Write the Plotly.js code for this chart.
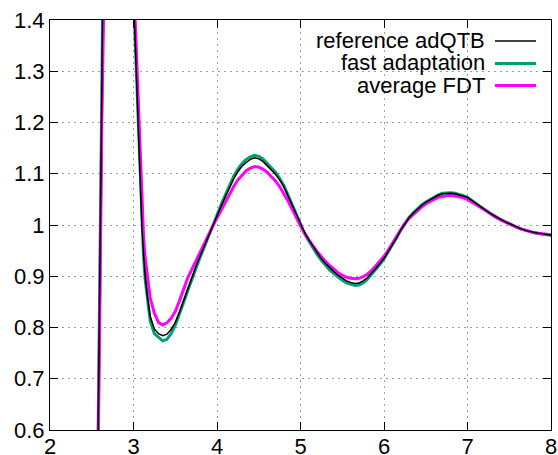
<!DOCTYPE html>
<html>
<head>
<meta charset="utf-8">
<script src="https://cdn.plot.ly/plotly-3.0.1.min.js"></script>
<style>html,body{margin:0;padding:0;background:#fff;}#chart{width:558px;height:455px;}</style>
</head>
<body>
<div id="chart"></div>
<script>
const seriesNames = ["reference adQTB", "fast adaptation", "average FDT"];
const seriesColors = ["#000000", "#009e73", "#ff00ff"];

const xs = [2.0, 2.5, 2.55, 2.58, 2.6, 2.62, 2.64, 2.67, 2.7, 2.75, 2.8, 2.85, 2.9, 2.95, 3.0, 3.02, 3.04, 3.06, 3.08, 3.1, 3.12, 3.14, 3.17, 3.2, 3.25,
  3.30, 3.35, 3.40, 3.45, 3.50, 3.55, 3.60, 3.65, 3.70, 3.75, 3.80, 3.85, 3.90, 3.95,
  4.00, 4.05, 4.10, 4.15, 4.20, 4.25, 4.30, 4.35, 4.40, 4.45, 4.50, 4.55, 4.60, 4.65, 4.70, 4.75, 4.80, 4.85, 4.90, 4.95,
  5.00, 5.05, 5.10, 5.15, 5.20, 5.25, 5.30, 5.35, 5.40, 5.45, 5.50, 5.55, 5.60, 5.65, 5.70, 5.75, 5.80, 5.85, 5.90, 5.95,
  6.00, 6.05, 6.10, 6.15, 6.20, 6.25, 6.30, 6.35, 6.40, 6.45, 6.50, 6.55, 6.60, 6.65, 6.70, 6.75, 6.80, 6.85, 6.90, 6.95,
  7.00, 7.05, 7.10, 7.15, 7.20, 7.25, 7.30, 7.35, 7.40, 7.45, 7.50, 7.55, 7.60, 7.65, 7.70, 7.75, 7.80, 7.85, 7.90, 7.95, 8.00];

const gReference = [0, 0.02, 0.2, 0.6, 0.92, 1.25, 1.58, 2.05, 2.42, 2.8, 2.95, 2.85, 2.5, 2.0, 1.45, 1.36, 1.27, 1.17, 1.08, 1.0, 0.945, 0.9, 0.855, 0.822, 0.797,
  0.788, 0.784, 0.787, 0.796, 0.810, 0.830, 0.853, 0.876, 0.898, 0.920, 0.940, 0.960, 0.980, 1.000,
  1.018, 1.037, 1.055, 1.073, 1.090, 1.104, 1.115, 1.122, 1.128, 1.131, 1.129, 1.124, 1.116, 1.109, 1.099, 1.088, 1.075, 1.057, 1.039, 1.019,
  1.000, 0.985, 0.971, 0.958, 0.945, 0.934, 0.925, 0.916, 0.909, 0.902, 0.896, 0.891, 0.888, 0.886, 0.887, 0.891, 0.897, 0.905, 0.915, 0.925,
  0.935, 0.948, 0.961, 0.975, 0.990, 1.002, 1.014, 1.023, 1.031, 1.038, 1.044, 1.049, 1.054, 1.058, 1.061, 1.062, 1.062, 1.061, 1.059, 1.057,
  1.054, 1.048, 1.042, 1.036, 1.031, 1.025, 1.020, 1.015, 1.010, 1.006, 1.003, 0.999, 0.996, 0.992, 0.989, 0.987, 0.985, 0.984, 0.983, 0.981, 0.980];

const gFast = [0, 0.02, 0.2, 0.6, 0.92, 1.25, 1.58, 2.05, 2.42, 2.82, 2.97, 2.87, 2.52, 2.02, 1.46, 1.36, 1.27, 1.17, 1.08, 0.995, 0.938, 0.893, 0.847, 0.813, 0.788,
  0.780, 0.774, 0.777, 0.788, 0.804, 0.825, 0.849, 0.872, 0.895, 0.917, 0.938, 0.958, 0.979, 1.000,
  1.020, 1.040, 1.059, 1.078, 1.095, 1.109, 1.120, 1.128, 1.133, 1.136, 1.134, 1.129, 1.121, 1.113, 1.103, 1.091, 1.077, 1.059, 1.040, 1.019,
  0.999, 0.983, 0.969, 0.955, 0.942, 0.931, 0.921, 0.912, 0.905, 0.898, 0.892, 0.887, 0.884, 0.882, 0.883, 0.887, 0.894, 0.903, 0.913, 0.923,
  0.934, 0.947, 0.961, 0.975, 0.990, 1.003, 1.015, 1.024, 1.032, 1.039, 1.045, 1.050, 1.055, 1.059, 1.062, 1.063, 1.063, 1.062, 1.060, 1.057,
  1.054, 1.048, 1.042, 1.036, 1.030, 1.025, 1.019, 1.014, 1.010, 1.006, 1.002, 0.998, 0.995, 0.992, 0.989, 0.987, 0.985, 0.983, 0.982, 0.981, 0.980];

const gFDT = [0, 0.02, 0.18, 0.56, 0.88, 1.2, 1.52, 2.0, 2.38, 2.75, 2.9, 2.8, 2.48, 2.0, 1.49, 1.4, 1.31, 1.21, 1.12, 1.04, 0.98, 0.935, 0.89, 0.858, 0.828,
  0.810, 0.805, 0.809, 0.818, 0.831, 0.852, 0.875, 0.897, 0.914, 0.930, 0.947, 0.964, 0.981, 0.998,
  1.014, 1.030, 1.046, 1.061, 1.075, 1.088, 1.098, 1.106, 1.111, 1.114, 1.113, 1.109, 1.103, 1.095, 1.086, 1.075, 1.062, 1.047, 1.031, 1.014,
  0.998, 0.984, 0.971, 0.959, 0.948, 0.938, 0.929, 0.921, 0.914, 0.907, 0.902, 0.898, 0.896, 0.895, 0.896, 0.899, 0.904, 0.911, 0.920, 0.929,
  0.939, 0.951, 0.964, 0.977, 0.991, 1.003, 1.013, 1.021, 1.028, 1.035, 1.041, 1.046, 1.050, 1.054, 1.056, 1.057, 1.058, 1.057, 1.055, 1.053,
  1.050, 1.045, 1.040, 1.035, 1.030, 1.024, 1.019, 1.014, 1.010, 1.006, 1.002, 0.998, 0.995, 0.992, 0.989, 0.987, 0.985, 0.984, 0.983, 0.982, 0.981];

const xTickVals = [2, 3, 4, 5, 6, 7, 8];
const xTickText = ["2", "3", "4", "5", "6", "7", "8"];
const yTickVals = [0.6, 0.7, 0.8, 0.9, 1.0, 1.1, 1.2, 1.3, 1.4];
const yTickText = ["0.6", "0.7", "0.8", "0.9", "1", "1.1", "1.2", "1.3", "1.4"];

const FONT = "Liberation Sans, Arial, sans-serif";

const traces = [
  {x: xs, y: gFast, mode: "lines", name: seriesNames[1], line: {color: seriesColors[1], width: 3}},
  {x: xs, y: gFDT, mode: "lines", name: seriesNames[2], line: {color: seriesColors[2], width: 3}},
  {x: xs, y: gReference, mode: "lines", name: seriesNames[0], line: {color: seriesColors[0], width: 1.5}}
];

const legendRowsY = [40.5, 63, 85];
const annotations = [];
const shapes = [];
seriesNames.forEach((n, i) => {
  annotations.push({xref: "paper", yref: "paper", x: (487 - 50) / 501, y: 1 - (legendRowsY[i] - 20) / 410,
    xanchor: "right", yanchor: "middle", text: n, showarrow: false,
    font: {family: FONT, size: 22, color: "#000"}});
  shapes.push({type: "line", xref: "paper", yref: "paper",
    x0: (495 - 50) / 501, x1: (536 - 50) / 501,
    y0: 1 - (legendRowsY[i] + 0.5 - 20) / 410, y1: 1 - (legendRowsY[i] + 0.5 - 20) / 410,
    line: {color: seriesColors[i], width: i === 0 ? 1.5 : 3}});
});

const axisCommon = {
  showline: true, linecolor: "#000", linewidth: 1, mirror: "allticks",
  ticks: "inside", ticklen: 8, tickwidth: 1, tickcolor: "#000",
  showgrid: true, gridcolor: "#a0a0a0", gridwidth: 1, griddash: "2px,4px",
  zeroline: false, tickfont: {family: FONT, size: 22, color: "#000"}
};

const layout = {
  width: 558, height: 455,
  margin: {l: 50, r: 7, t: 20, b: 25},
  paper_bgcolor: "#fff", plot_bgcolor: "#fff",
  showlegend: false,
  xaxis: Object.assign({}, axisCommon, {range: [2, 8], tickmode: "array", tickvals: xTickVals, ticktext: xTickText, ticklabelstandoff: -3}),
  yaxis: Object.assign({}, axisCommon, {range: [0.6, 1.4], tickmode: "array", tickvals: yTickVals, ticktext: yTickText}),
  annotations: annotations,
  shapes: shapes
};

Plotly.newPlot("chart", traces, layout, {staticPlot: true, displayModeBar: false});
</script>
</body>
</html>
